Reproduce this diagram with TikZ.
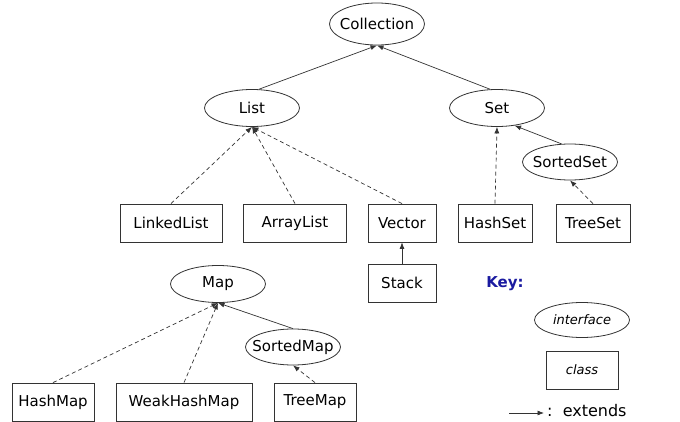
\documentclass[tikz,border=0pt]{standalone}
\usepackage{fontspec}
\setmainfont{DejaVu Sans}
\usetikzlibrary{shapes.geometric,arrows.meta}
\definecolor{edgec}{HTML}{333333}
\definecolor{keyc}{HTML}{1A1AA0}
\tikzset{
  iface/.style={draw=edgec, line width=0.8pt, ellipse, inner ysep=0pt, inner xsep=-9pt, minimum width=95pt, minimum height=37pt, font=\fontsize{15}{17}\selectfont},
  cls/.style={draw=edgec, line width=0.8pt, rectangle, inner sep=0pt, minimum height=38pt, font=\fontsize{15}{17}\selectfont},
  ext/.style={draw=edgec, line width=0.7pt, -{Latex[length=6.5pt,width=5pt]}},
  impl/.style={ext, dash pattern=on 4pt off 3pt},
}
\begin{document}
\begin{tikzpicture}[x=1pt,y=-1pt]
\useasboundingbox[fill=white] (0,0) rectangle (680,422);
% interfaces
\node[iface, minimum height=42pt] (coll) at (377,24) {Collection};
\node[iface] (list) at (252,108) {List};
\node[iface] (set) at (497,108) {Set};
\node[iface, minimum height=36pt] (sset) at (570,162) {SortedSet};
\node[iface] (map) at (218,284) {Map};
\node[iface, minimum height=36pt] (smap) at (293,347) {SortedMap};
% classes
\node[cls, minimum width=102pt] (ll) at (171,223) {LinkedList};
\node[cls, minimum width=103pt] (al) at (295,223) {ArrayList};
\node[cls, minimum width=68pt] (vec) at (402,223) {Vector};
\node[cls, minimum width=74pt] (hs) at (495,223) {HashSet};
\node[cls, minimum width=74pt] (ts) at (593,223) {TreeSet};
\node[cls, minimum width=68pt] (stack) at (402,283) {Stack};
\node[cls, minimum width=82pt] (hm) at (53,402) {HashMap};
\node[cls, minimum width=136pt] (whm) at (184,402) {WeakHashMap};
\node[cls, minimum width=82pt] (tm) at (315,402) {TreeMap};
% edges
\draw[ext] (list.70) -- (coll.south);
\draw[ext] (set.110) -- (coll.south);
\draw[impl] (ll.north) -- (list.south);
\draw[impl] (al.north) -- (list.south);
\draw[impl] (vec.north) -- (list.south);
\draw[impl] (hs.north) -- (set.south);
\draw[ext] (sset.115) -- (set.-45);
\draw[impl] (ts.north) -- (sset.south);
\draw[ext] (stack.north) -- (vec.south);
\draw[impl] (hm.north) -- (map.south);
\draw[impl] (whm.north) -- (map.south);
\draw[ext] (smap.north) -- (map.south);
\draw[impl] (tm.north) -- (smap.south);
% key
\node[font=\fontsize{15}{17}\selectfont\bfseries, text=keyc] (key) at (505,284) {Key:};
\node[iface, minimum height=35pt, font=\fontsize{13}{15}\selectfont\itshape] (ki) at (582,320) {interface};
\node[cls, minimum width=72pt, font=\fontsize{13}{15}\selectfont\itshape] (kc) at (582,370) {class};
\coordinate (ka) at (509,413);
\coordinate (kb) at (544,413);
\draw[ext] (ka) -- (kb);
\node[anchor=west, font=\fontsize{16}{18}\selectfont, inner sep=0pt] (kt) at (547,411) {:\ \ extends};
\end{tikzpicture}
\end{document}
